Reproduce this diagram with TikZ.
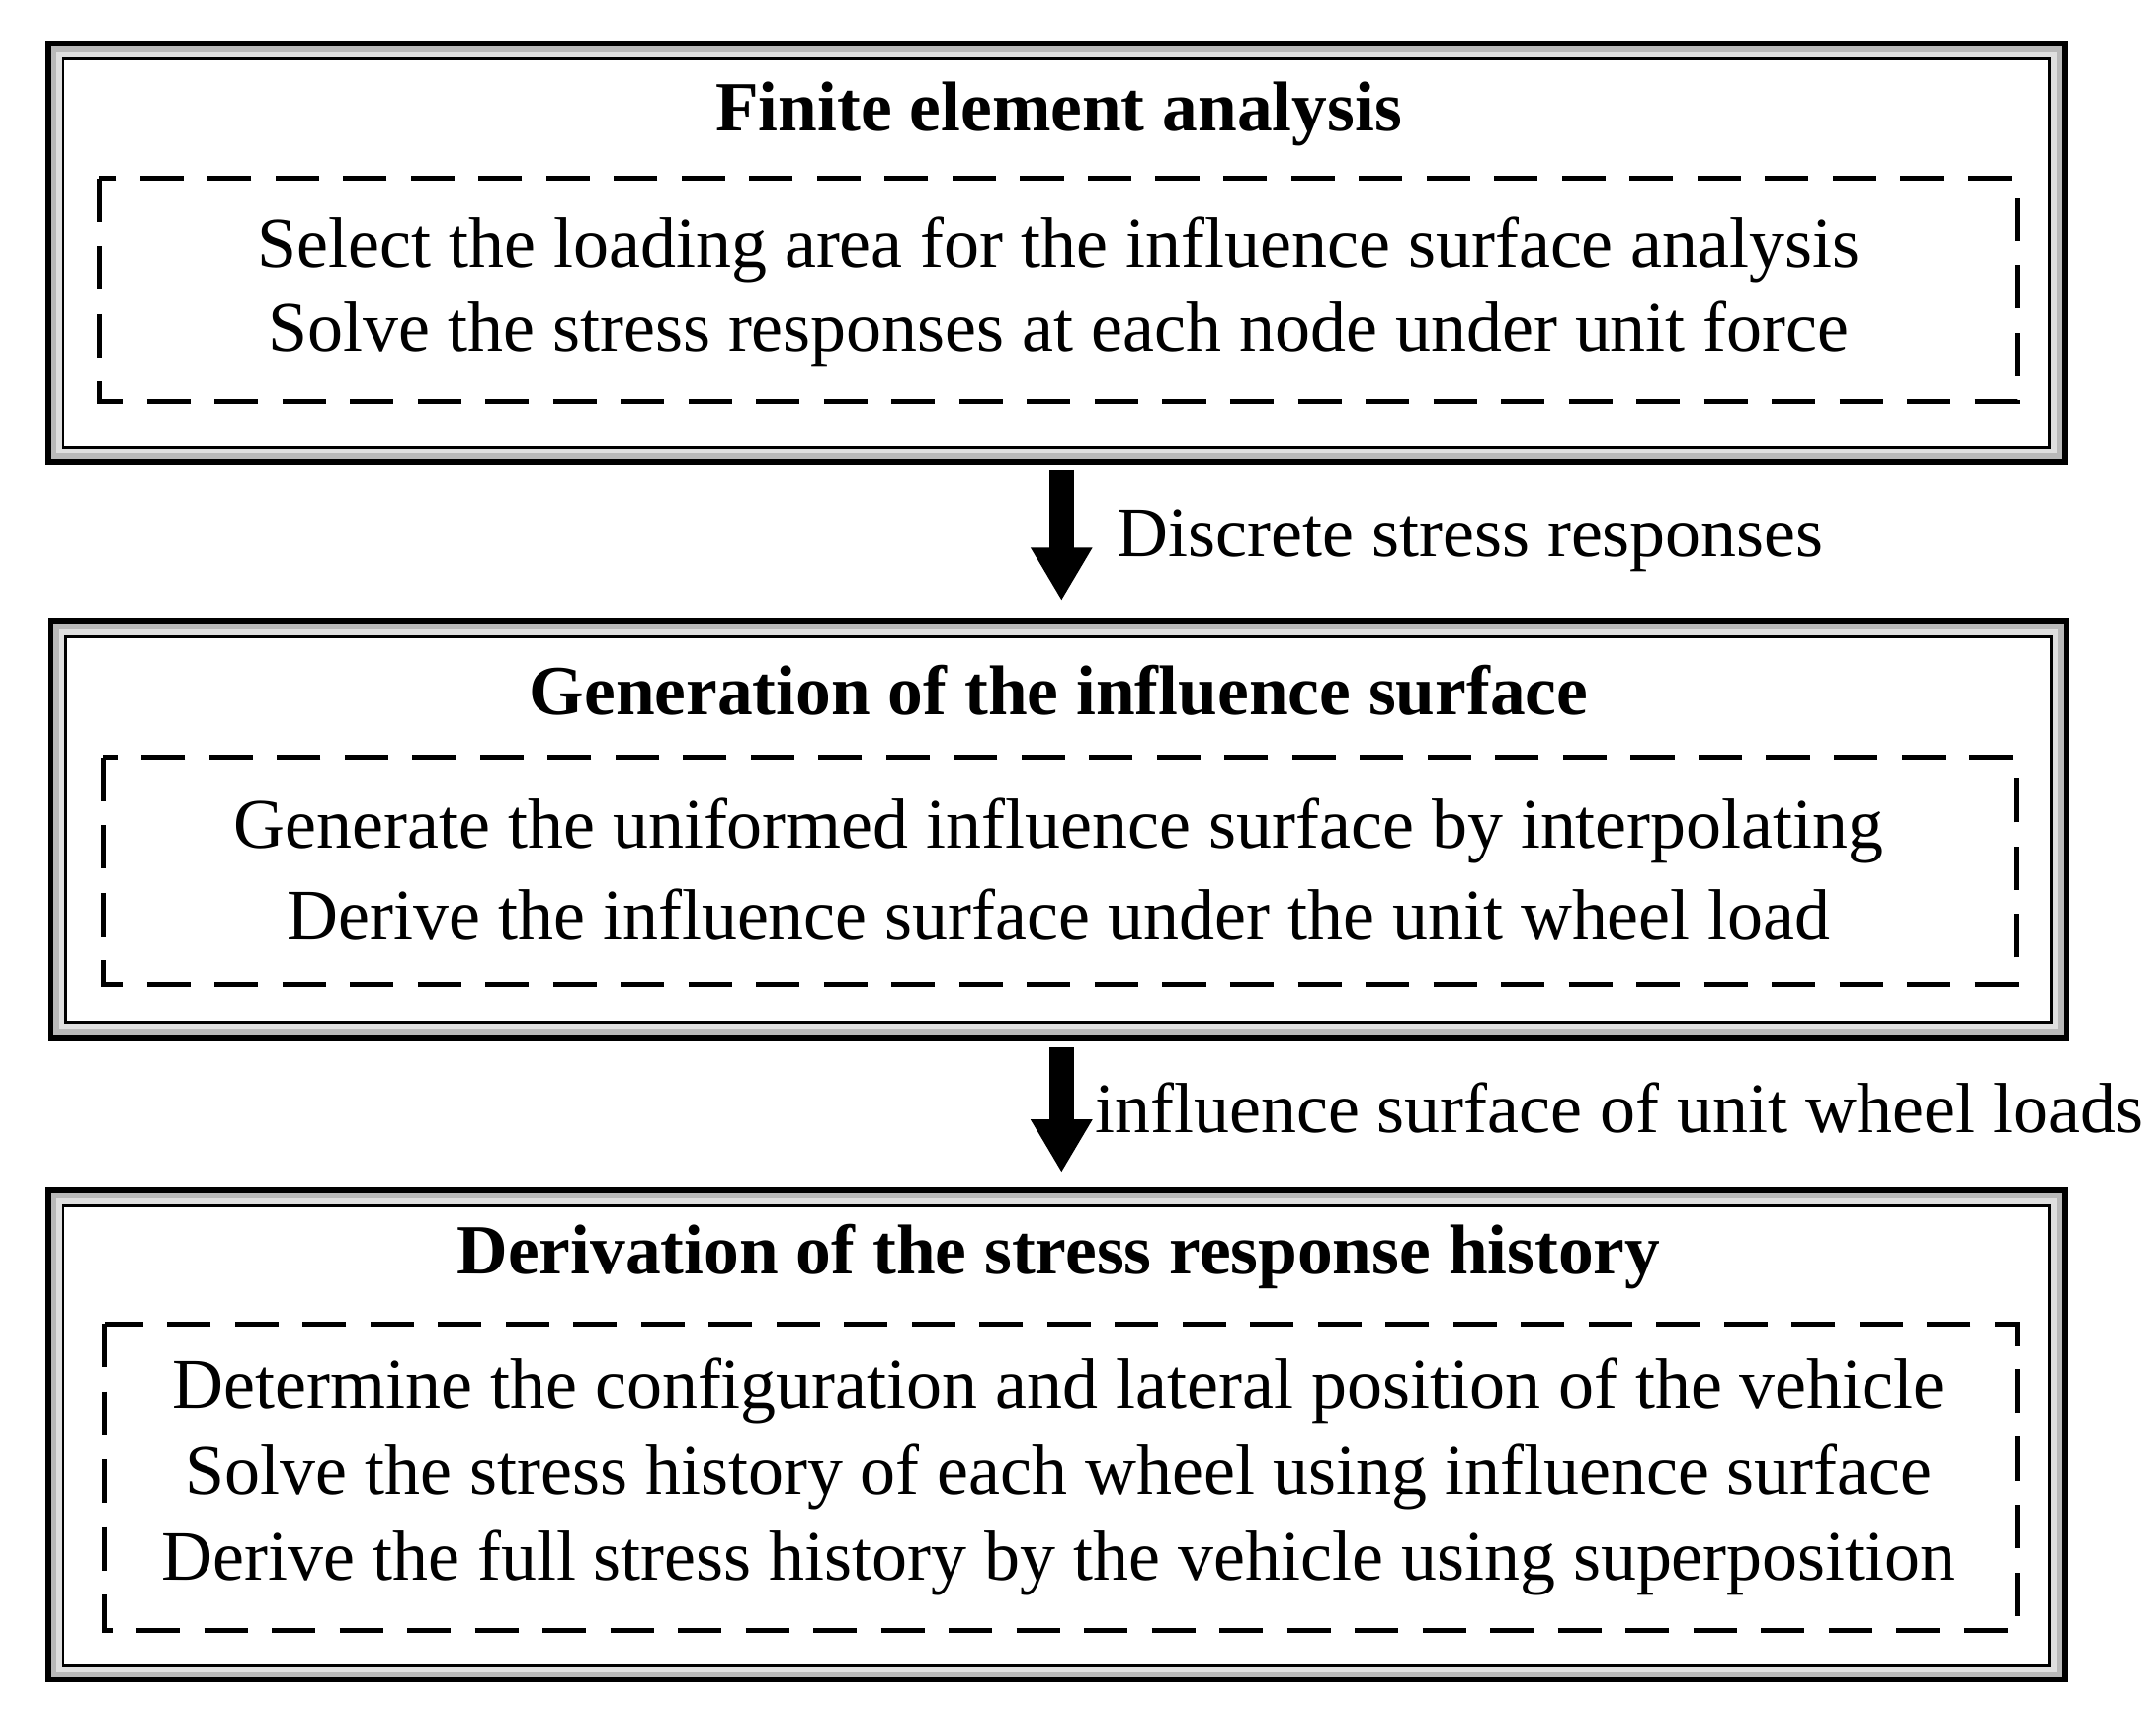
\documentclass[tikz,border=0pt]{standalone}
\usepackage{fontspec}
\setmainfont{Liberation Serif}
\usetikzlibrary{arrows.meta}
\begin{document}
\begin{tikzpicture}[x=0.01cm,y=-0.01cm,
 outer/.style={draw=black,line width=1.2pt},
 dashbox/.style={draw=black,line width=1pt,dash pattern=on 9pt off 5pt},
 ttl/.style={font=\fontsize{14.6}{18}\selectfont\bfseries,anchor=center},
 body/.style={font=\fontsize{14.7}{17}\selectfont,anchor=center},
 lab/.style={font=\fontsize{14.7}{17}\selectfont,anchor=west},
 arr/.style={line width=5pt,-{Triangle[length=11pt,width=12pt]}}]
\useasboundingbox (0,0) rectangle (1568,1248);
\foreach \a/\b/\c/\d in {35/32/1502/336, 37/452/1503/755, 35/866/1502/1222}{
 \fill[gray!55] (\a,\b) rectangle (\c,\d);
 \fill[gray!25] (\a+6,\b+6) rectangle (\c-6,\d-6);
 \fill[white] (\a+11,\b+11) rectangle (\c-11,\d-11);
 \draw[outer] (\a,\b) rectangle (\c,\d);
 \draw[line width=0.6pt] (\a+11,\b+11) rectangle (\c-11,\d-11);
}
\draw[dashbox] (72,130) rectangle (1467,292);
\draw[dashbox] (75,551) rectangle (1466,716);
\draw[dashbox] (76,963) rectangle (1467,1186);
\node[ttl] (t1) at (770,83) {Finite element analysis};
\node[body] (l11) at (770,182) {Select the loading area for the influence surface analysis};
\node[body] (l12) at (770,243) {Solve the stress responses at each node under unit force};
\node[ttl] (t2) at (770,502) {Generation of the influence surface};
\node[body] (l21) at (770,604) {Generate the uniformed influence surface by interpolating};
\node[body] (l22) at (770,665) {Derive the influence surface under the unit wheel load};
\node[ttl] (t3) at (770,914) {Derivation of the stress response history};
\node[body] (l31) at (770,1012) {Determine the configuration and lateral position of the vehicle};
\node[body] (l32) at (770,1074) {Solve the stress history of each wheel using influence surface};
\node[body] (l33) at (770,1137) {Derive the full stress history by the vehicle using superposition};
\coordinate (a1s) at (772,342); \coordinate (a1e) at (772,437);
\coordinate (a2s) at (772,762); \coordinate (a2e) at (772,853);
\draw[arr] (a1s) -- (a1e);
\draw[arr] (a2s) -- (a2e);
\node[lab] (d1) at (800,393) {Discrete stress responses};
\node[lab] (d2) at (784,806) {influence surface of unit wheel loads};
\end{tikzpicture}
\end{document}
